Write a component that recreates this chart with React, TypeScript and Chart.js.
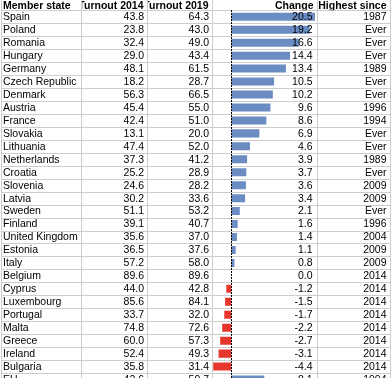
import React, { useEffect, useRef } from "react";
import { Chart, registerables } from "chart.js";

Chart.register(...registerables);

const countries = [
  "Spain", "Poland", "Romania", "Hungary", "Germany", "Czech Republic", "Denmark",
  "Austria", "France", "Slovakia", "Lithuania", "Netherlands", "Croatia", "Slovenia",
  "Latvia", "Sweden", "Finland", "United Kingdom", "Estonia", "Italy", "Belgium",
  "Cyprus", "Luxembourg", "Portugal", "Malta", "Greece", "Ireland", "Bulgaria", "EU",
];
const turnout2014 = [
  43.8, 23.8, 32.4, 29.0, 48.1, 18.2, 56.3, 45.4, 42.4, 13.1, 47.4, 37.3, 25.2, 24.6,
  30.2, 51.1, 39.1, 35.6, 36.5, 57.2, 89.6, 44.0, 85.6, 33.7, 74.8, 60.0, 52.4, 35.8, 42.6,
];
const turnout2019 = [
  64.3, 43.0, 49.0, 43.4, 61.5, 28.7, 66.5, 55.0, 51.0, 20.0, 52.0, 41.2, 28.9, 28.2,
  33.6, 53.2, 40.7, 37.0, 37.6, 58.0, 89.6, 42.8, 84.1, 32.0, 72.6, 57.3, 49.3, 31.4, 50.7,
];
const change = [
  20.5, 19.2, 16.6, 14.4, 13.4, 10.5, 10.2, 9.6, 8.6, 6.9, 4.6, 3.9, 3.7, 3.6,
  3.4, 2.1, 1.6, 1.4, 1.1, 0.8, 0.0, -1.2, -1.5, -1.7, -2.2, -2.7, -3.1, -4.4, 8.1,
];
const highestSince = [
  "1987", "Ever", "Ever", "Ever", "1989", "Ever", "Ever", "1996", "1994", "Ever",
  "Ever", "1989", "Ever", "2009", "2009", "Ever", "1996", "2004", "2009", "2009",
  "2014", "2014", "2014", "2014", "2014", "2014", "2014", "2014", "1994",
];
const headers = ["Member state", "Turnout 2014", "Turnout 2019", "Change", "Highest since"];

const W = 392;
const H = 386;
const HEADER_H = 10.3;
const COL_EDGES = [1, 81, 147, 212, 317, 390];
const BLUE = "#6b8cc3";
const RED = "#e5372d";
const GRID = "#cdcdcd";
const FONT_FAMILY = '"Liberation Sans", Arial, Helvetica, sans-serif';

const tablePlugin = {
  id: "tablePlugin",
  beforeDatasetsDraw(chart: any) {
    const ctx = chart.ctx;
    const ys = chart.scales.y;
    const band = ys.getPixelForValue(1) - ys.getPixelForValue(0);
    const top = ys.getPixelForValue(0) - band / 2;
    ctx.save();
    ctx.strokeStyle = GRID;
    ctx.lineWidth = 1;
    ctx.beginPath();
    for (let i = 0; i <= countries.length; i++) {
      const yy = Math.round(top + i * band) + 0.5;
      ctx.moveTo(COL_EDGES[0], yy);
      ctx.lineTo(COL_EDGES[COL_EDGES.length - 1] + 1, yy);
    }
    for (const x of COL_EDGES) {
      ctx.moveTo(x + 0.5, 0);
      ctx.lineTo(x + 0.5, chart.height);
    }
    ctx.stroke();
    ctx.restore();
  },
  afterDatasetsDraw(chart: any) {
    const ctx = chart.ctx;
    const ys = chart.scales.y;
    const xs = chart.scales.x;
    const band = ys.getPixelForValue(1) - ys.getPixelForValue(0);
    const top = ys.getPixelForValue(0) - band / 2;
    ctx.save();
    // zero dashed line
    const x0 = Math.round(xs.getPixelForValue(0)) + 0.5;
    ctx.strokeStyle = "#000";
    ctx.lineWidth = 1;
    ctx.setLineDash([2, 1]);
    ctx.beginPath();
    ctx.moveTo(x0, Math.round(top));
    ctx.lineTo(x0, chart.height);
    ctx.stroke();
    ctx.setLineDash([]);

    ctx.fillStyle = "#000";
    ctx.textBaseline = "middle";
    // headers
    ctx.font = `bold 10.5px ${FONT_FAMILY}`;
    const hy = HEADER_H / 2 + 0.5;
    ctx.save();
    ctx.beginPath();
    ctx.rect(COL_EDGES[0], 0, COL_EDGES[1] - COL_EDGES[0], HEADER_H);
    ctx.clip();
    ctx.textAlign = "left";
    ctx.fillText(headers[0], 3, hy);
    ctx.restore();
    for (let c = 1; c < headers.length; c++) {
      ctx.save();
      ctx.beginPath();
      ctx.rect(COL_EDGES[c] + 1, 0, COL_EDGES[c + 1] - COL_EDGES[c] - 1, HEADER_H);
      ctx.clip();
      ctx.textAlign = "right";
      ctx.fillText(headers[c], COL_EDGES[c + 1] - 3.5, hy);
      ctx.restore();
    }
    // body
    ctx.font = `10.5px ${FONT_FAMILY}`;
    for (let i = 0; i < countries.length; i++) {
      const cy = ys.getPixelForValue(i) + 0.5;
      ctx.textAlign = "left";
      ctx.fillText(countries[i], 3, cy);
      ctx.textAlign = "right";
      ctx.fillText(turnout2014[i].toFixed(1), COL_EDGES[2] - 3, cy);
      ctx.fillText(turnout2019[i].toFixed(1), COL_EDGES[3] - 3, cy);
      ctx.fillText(change[i].toFixed(1), COL_EDGES[4] - 4.5, cy);
      ctx.fillText(highestSince[i], COL_EDGES[5] - 3.5, cy);
    }
    ctx.restore();
  },
};

export default function App() {
  const ref = useRef<HTMLCanvasElement | null>(null);
  useEffect(() => {
    document.body.style.margin = "0";
    document.body.style.overflow = "hidden";
    document.documentElement.style.overflow = "hidden";
    document.body.style.background = "#fff";
    const canvas = ref.current!;
    const chart = new Chart(canvas, {
      type: "bar",
      data: {
        labels: countries,
        datasets: [
          {
            data: change,
            backgroundColor: change.map((v) => (v < 0 ? RED : BLUE)),
            borderWidth: 0,
            barPercentage: 0.62,
            categoryPercentage: 1,
          },
        ],
      },
      options: {
        indexAxis: "y",
        responsive: false,
        animation: false,
        devicePixelRatio: 1,
        layout: {
          padding: { left: COL_EDGES[3], right: W - COL_EDGES[4], top: HEADER_H, bottom: 0 },
        },
        plugins: { legend: { display: false }, tooltip: { enabled: false } },
        scales: {
          x: { type: "linear", min: -4.7, max: 21, display: false },
          y: { type: "category", display: false, offset: true },
        },
      },
      plugins: [tablePlugin],
    });
    return () => chart.destroy();
  }, []);
  return (
    <canvas
      ref={ref}
      width={W}
      height={H}
      style={{ display: "block", width: W, height: H }}
    />
  );
}
